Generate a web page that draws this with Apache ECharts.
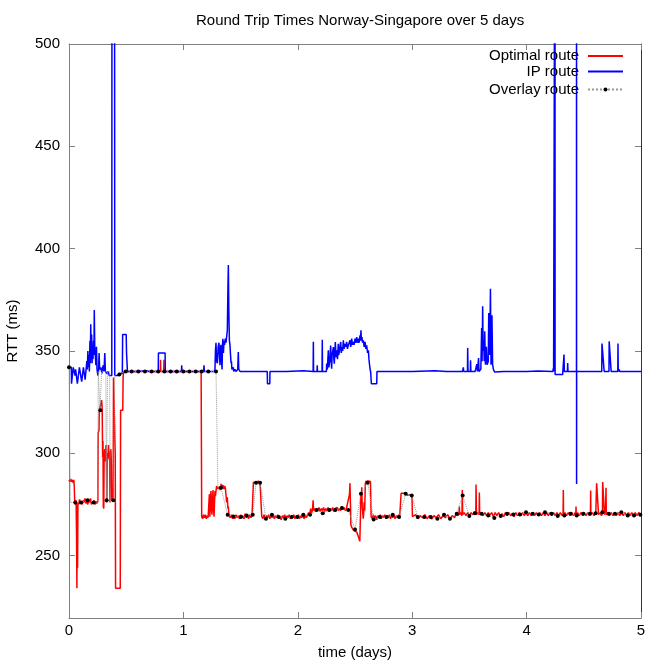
<!DOCTYPE html>
<html>
<head>
<meta charset="utf-8">
<script src="https://cdn.jsdelivr.net/npm/echarts@6/dist/echarts.min.js"></script>
<style>html,body{margin:0;padding:0;background:#fff}#c{width:664px;height:664px}</style>
</head>
<body>
<div id="c"></div>
<script>
var titleText = 'Round Trip Times Norway-Singapore over 5 days';
var xName = 'time (days)';
var yName = 'RTT (ms)';
var xTicks = [0, 1, 2, 3, 4, 5];
var yTicks = [250, 300, 350, 400, 450, 500];
var seriesNames = ['Optimal route', 'IP route', 'Overlay route'];

// Optimal route [time (days), RTT (ms)]
var optimalRoute = [
[0,287],[0.008,286],[0.015,287.5],[0.022,286],[0.03,287],[0.038,285.5],[0.042,287],[0.046,284],[0.05,276],[0.056,275],[0.062,277],[0.066,260],[0.069,234],[0.072,275],[0.075,244],[0.078,276],[0.085,275],[0.092,277.5],[0.1,275.5],[0.108,276.5],[0.116,275],[0.124,277],[0.132,276],[0.14,278],[0.148,275.5],[0.156,276.5],[0.164,275],[0.172,277],[0.18,276],[0.188,278],[0.196,275],[0.204,276.5],[0.212,275.5],[0.22,277],[0.228,275],[0.236,276.5],[0.244,275.5],[0.252,276.5],[0.255,310],[0.262,311],[0.265,321],[0.28,321],[0.285,326],[0.29,322],[0.294,298],[0.297,306],[0.3,274],[0.304,273],[0.307,298],[0.313,302],[0.318,296],[0.323,304],[0.327,298],[0.331,276],[0.334,300],[0.34,298],[0.345,304],[0.35,297],[0.355,301],[0.358,276],[0.361,299],[0.366,302],[0.37,296],[0.374,277],[0.38,277],[0.386,278],[0.389,337],[0.402,337],[0.404,300],[0.407,234],[0.448,234],[0.451,321],[0.47,321],[0.473,337],[0.478,340],
[0.55,340],[0.65,340],[0.75,340],[0.798,340],[0.8,345.7],[0.802,340],[0.828,340],[0.83,345.7],[0.832,340],[0.95,340],[1.05,340],[1.155,340],[1.16,269],
[1.168,268],[1.176,270],[1.184,268.5],[1.192,270],[1.2,268],[1.208,269.5],[1.216,268.5],[1.222,275],[1.227,280],[1.231,269],[1.236,279],[1.241,281.5],[1.245,272],[1.25,270],[1.254,278],[1.259,282],[1.263,273],[1.268,269],[1.272,276],[1.276,281.5],[1.28,279],[1.285,278.5],[1.29,284],[1.297,284.5],[1.305,282.5],[1.314,283.8],[1.322,282],[1.33,285],[1.338,283],[1.345,284.5],[1.353,282.5],[1.36,284],[1.367,283],[1.373,282.5],[1.378,276],[1.384,278.5],[1.389,273],[1.393,274],[1.398,269.5],[1.41,268.5],[1.42,270],[1.43,268],[1.44,269.5],[1.45,268],[1.46,270],[1.47,268.5],[1.48,269.5],[1.49,268],[1.5,270],[1.51,268.5],[1.52,269.5],[1.53,268],[1.54,270.5],[1.55,268.5],[1.56,269.5],[1.57,268],[1.58,270],[1.59,268.5],[1.6,269.5],[1.609,269],[1.612,285.9],[1.625,286.5],[1.64,285.5],[1.655,286.5],[1.67,285.5],[1.682,286],[1.685,269],
[1.695,268],[1.705,270],[1.715,267.5],[1.725,269.5],[1.735,268.5],[1.745,270],[1.755,268],[1.765,269.5],[1.775,268.5],[1.785,270],[1.795,268],[1.805,269.5],[1.815,268.5],[1.825,270],[1.835,268],[1.845,269],[1.855,267.5],[1.865,269.5],[1.875,268.5],[1.885,270],[1.895,268],[1.905,269.5],[1.915,268.5],[1.925,270],[1.935,268],[1.945,269.5],[1.955,268.5],[1.965,270],[1.975,268],[1.985,269.5],[1.995,268.5],[2.005,270],[2.015,268],[2.025,269.5],[2.035,268.5],[2.045,270],[2.055,268],[2.065,269.5],[2.075,268.5],[2.085,270],[2.095,271],[2.105,270],[2.112,273],[2.12,271],[2.128,272],[2.134,277],[2.138,272],[2.146,273],[2.155,271.5],[2.165,273],[2.175,272],[2.185,273.5],[2.195,271.5],[2.205,273],[2.215,272],[2.225,273.5],[2.235,271.5],[2.245,273],[2.255,272],[2.265,273.5],[2.275,271.5],[2.285,273],[2.295,272],[2.305,273.5],[2.315,271.5],[2.325,273],[2.335,272.5],[2.345,273.5],[2.355,272],[2.365,273],[2.375,272],[2.385,274],[2.395,272.5],[2.405,273.5],[2.415,272],[2.425,273],[2.435,272.5],[2.442,273],[2.452,280],[2.456,285.4],[2.46,276],[2.464,265],[2.471,263.9],[2.485,262.5],[2.5,262],[2.515,261.5],[2.525,260],[2.535,259.5],[2.542,257],[2.545,256.5],[2.548,270],[2.55,280.2],[2.554,275],[2.559,283.4],[2.563,274],[2.567,273.5],[2.572,268],[2.576,270.5],[2.58,276],[2.585,272],[2.59,285],[2.595,286.2],[2.605,285.5],[2.615,286.5],[2.625,285.8],[2.635,286.2],[2.641,269],
[2.65,268],[2.66,270],[2.67,268.5],[2.68,269.5],[2.69,267.5],[2.7,269.5],[2.71,268.5],[2.72,270],[2.73,268],[2.74,269.5],[2.75,268.5],[2.76,270],[2.77,268],[2.78,269.5],[2.79,268.5],[2.8,270],[2.81,268],[2.82,269.5],[2.83,268.5],[2.84,270],[2.85,268],[2.86,269.5],[2.87,268.5],[2.88,270],[2.89,268.5],[2.9,269],[2.903,280.5],[2.92,280],[2.94,280.5],[2.96,279.5],[2.98,279.8],[2.998,279],[3.002,269],
[3.01,268.5],[3.03,270],[3.05,268],[3.07,269.5],[3.09,268.5],[3.11,270],[3.13,268],[3.15,269.5],[3.17,267.8],[3.19,269.5],[3.21,268.5],[3.23,270],[3.25,268],[3.27,269.5],[3.29,268.5],[3.31,270],[3.33,268],[3.35,269.5],[3.37,268.5],[3.385,270.5],[3.4,269.5],[3.41,271],[3.412,274],[3.415,270],[3.425,271],[3.435,269.5],[3.438,282.1],[3.441,270],[3.455,271],[3.47,269.5],[3.485,271],[3.5,269.5],[3.515,271],[3.53,270],[3.545,271.5],[3.556,270],[3.558,284.7],[3.562,270],[3.575,271],[3.585,270],[3.587,280.8],[3.59,270],[3.605,271],[3.62,269.5],[3.635,271],[3.65,269.5],[3.665,271],[3.68,270],[3.695,271],[3.71,269],[3.725,271],[3.74,269.5],[3.755,271],[3.77,269.5],[3.785,270.5],[3.8,269],[3.815,271],[3.83,269.5],[3.845,271],[3.86,269.5],[3.875,270.5],[3.89,269],[3.905,271],[3.92,269.5],[3.935,271],[3.95,269.5],[3.965,271],[3.98,269.5],[3.995,271],[4.01,269.5],[4.025,271],[4.04,269.5],[4.055,271],[4.07,269.5],[4.085,271],[4.1,269.5],[4.115,271],[4.13,269.5],[4.145,271],[4.16,269.5],[4.175,271],[4.19,269.5],[4.205,271],[4.22,269.5],[4.235,271],[4.25,269.5],[4.265,271],[4.28,269.5],[4.295,271],[4.31,269.5],[4.319,270.5],[4.321,282.1],[4.323,270],[4.335,271],[4.35,269.5],[4.365,271],[4.38,269.5],[4.395,271],[4.41,269.5],[4.425,271],[4.43,270],[4.432,274],[4.434,270],[4.445,271],[4.46,269.5],[4.475,271],[4.49,269.5],[4.505,271],[4.52,269.5],[4.535,271],[4.55,269.5],[4.558,270.5],[4.56,281.8],[4.562,270],[4.575,271],[4.59,269.5],[4.605,271],[4.61,270.5],[4.612,285.4],[4.627,285],[4.629,270],[4.64,271],[4.655,269.5],[4.663,271],[4.665,285.9],[4.679,285.5],[4.681,270],[4.69,271],[4.694,283.1],[4.697,270],[4.71,271],[4.725,269.5],[4.74,271],[4.755,269.5],[4.77,271],[4.785,269.5],[4.8,271],[4.815,269.5],[4.83,271],[4.845,269.5],[4.86,271],[4.875,269.5],[4.89,271],[4.905,269.5],[4.92,271],[4.935,269.5],[4.95,271],[4.965,269.5],[4.98,271],[5.0,270]
];

// IP route [time (days), RTT (ms)]  (values above 500 run off the top of the plot)
var ipRoute = [
[0,342],[0.02,342],[0.022,334],[0.035,334],[0.037,342],[0.05,342],[0.053,338],[0.058,341],[0.07,341],[0.073,334],[0.088,334],[0.091,342],[0.108,342],[0.111,335],[0.123,335],[0.126,342],[0.138,342],[0.141,336],[0.152,336],[0.156,345],[0.16,341],[0.165,350],[0.169,342],[0.174,348],[0.178,340],[0.183,355],[0.187,344],[0.19,363],[0.194,346],[0.198,358],[0.202,344],[0.206,352],[0.21,346],[0.214,355],[0.218,348],[0.221,370],[0.225,352],[0.23,348],[0.235,343],[0.24,352],[0.245,341],[0.252,338],[0.258,340],[0.263,349],[0.268,341],[0.278,342],[0.288,339],[0.298,343],[0.306,340],[0.313,349],[0.318,340],[0.33,339],[0.342,340],[0.352,338],[0.374,338],[0.376,600],[0.398,600],[0.4,338],[0.43,338],[0.44,339],[0.466,339],[0.469,358],[0.5,358],[0.503,349],[0.508,349],[0.511,340],[0.6,340],[0.68,340.3],[0.7,340],[0.78,340],[0.782,349],[0.84,349],[0.842,340],[0.9,340],[0.983,340],[0.985,343],[0.988,340],[1.1,340],[1.177,340],[1.18,343],[1.183,340],[1.27,340],[1.276,341],[1.28,350],[1.285,354],[1.29,345],[1.297,344],[1.304,352],[1.311,354],[1.316,347],[1.32,343],[1.325,351],[1.328,353],[1.333,346],[1.338,341],[1.342,353],[1.345,356],[1.35,349],[1.355,355],[1.36,353],[1.366,356],[1.372,354],[1.378,357],[1.384,360],[1.389,380],[1.393,392],[1.397,370],[1.402,355],[1.407,353],[1.412,348],[1.417,344],[1.42,345],[1.424,341],[1.43,340.5],[1.436,342],[1.44,340],[1.45,341],[1.46,340],[1.475,341],[1.48,349.5],[1.484,341],[1.495,340],[1.6,340],[1.733,340],[1.735,334],[1.755,334],[1.757,340],[1.9,340],[2.05,340.3],[2.134,340],[2.136,354.5],[2.138,340],[2.168,340],[2.17,343],[2.172,340],[2.212,340],[2.214,355.5],[2.216,340],[2.25,340],[2.252,343.8],[2.258,341],[2.267,350.3],[2.271,342],[2.275,342.1],[2.28,345],[2.287,352.7],[2.292,346],[2.296,341.3],[2.3,348],[2.311,351.9],[2.315,346],[2.319,343.8],[2.324,349],[2.328,354.4],[2.334,347],[2.34,350.3],[2.347,346],[2.354,353.5],[2.358,348],[2.363,348.7],[2.369,352],[2.375,354.4],[2.38,349],[2.386,351.9],[2.392,350],[2.398,355.2],[2.405,351],[2.412,353.5],[2.42,352],[2.427,354.4],[2.434,351],[2.441,352.7],[2.448,353],[2.456,355.2],[2.463,352],[2.471,356],[2.478,353],[2.485,354.4],[2.492,353],[2.5,356],[2.507,354],[2.515,356.8],[2.522,354],[2.529,356],[2.536,354],[2.544,357.6],[2.548,355],[2.552,360.1],[2.556,355],[2.561,356.8],[2.566,354],[2.573,355.2],[2.58,352],[2.588,354.4],[2.595,351],[2.602,352.7],[2.61,349],[2.617,350.3],[2.622,346],[2.626,343.8],[2.632,341],[2.637,339.7],[2.643,334],[2.69,334],[2.692,340],[2.8,340],[3.0,340],[3.2,340.3],[3.3,340],[3.44,340],[3.447,342],[3.45,340],[3.483,340],[3.485,351.5],[3.488,340],[3.508,340],[3.51,345.5],[3.513,340],[3.55,340],[3.565,343.6],[3.57,340],[3.58,346.5],[3.584,340],[3.6,341],[3.607,361.2],[3.611,345],[3.616,371.8],[3.62,350],[3.625,354.8],[3.63,345],[3.634,359.6],[3.64,343.3],[3.648,352],[3.655,343.3],[3.665,345],[3.669,368.5],[3.673,351],[3.678,348],[3.684,380.4],[3.689,343.3],[3.693,350],[3.697,367.4],[3.703,343.3],[3.71,341],[3.72,339.7],[3.8,340],[4.0,340],[4.1,340.2],[4.23,340],[4.233,341.5],[4.236,340],[4.247,340],[4.248,620],[4.249,338.5],[4.315,338.5],[4.317,340],[4.325,340],[4.327,348.2],[4.33,340],[4.357,340],[4.359,344.1],[4.362,340],[4.436,340],[4.4365,620],[4.437,285],[4.4375,340],[4.5,340],[4.657,340],[4.659,353.6],[4.676,353.6],[4.678,340],[4.72,340],[4.722,354.7],[4.737,354.7],[4.739,340],[4.797,340],[4.799,353.6],[4.801,340],[4.81,341],[4.812,340],[5,340]
];

// Overlay route: sampled points (drawn as dots)
var overlayDotT = [0,0.055,0.105,0.163,0.216,0.274,0.329,0.387,0.44,0.496,0.548,0.606,0.664,0.722,0.78,0.833,0.889,0.942,1.0,1.052,1.108,1.16,1.218,1.285,1.329,1.387,1.436,1.503,1.553,1.606,1.635,1.67,1.722,1.774,1.833,1.891,1.947,1.996,2.048,2.107,2.165,2.218,2.275,2.328,2.386,2.441,2.5,2.552,2.611,2.663,2.718,2.777,2.83,2.885,2.943,2.996,3.048,3.106,3.162,3.22,3.278,3.33,3.389,3.441,3.499,3.549,3.607,3.665,3.718,3.774,3.829,3.884,3.942,3.995,4.053,4.106,4.161,4.219,4.272,4.33,4.385,4.438,4.496,4.554,4.604,4.662,4.718,4.773,4.828,4.884,4.939,4.994];
var overlayDotV = [342,276,276,277,276,321,277,277,338.5,340,340,340,340,340,340,340,340,340,340,340,340,340,340,340,283.1,269.9,269.1,268.8,269.6,269.9,285.6,285.6,268,269.9,268.8,268,268.8,268.8,269.9,269.9,272.3,270.7,272.3,272.3,273.2,272.3,262.7,280.2,285.6,267.6,268.8,268.8,269.9,268.8,280.2,279.4,268.8,268.8,268.8,268,269.9,268,270.4,279.4,269.4,270.7,270.4,269.6,268.4,269.4,270.4,270.1,270.1,271.2,270.4,270.1,271.2,270.4,269.4,269.6,270.4,269.6,270.4,270.4,270.7,271.2,270.4,270.4,271.2,269.6,269.6,270];
// Overlay route: switching points between the dots (path only)
var overlayLinkT = [0.008,0.012,0.25,0.256,0.268,0.271,0.28,0.285,0.322,0.326,0.333,0.337,0.355,0.36,0.395,0.4,0.46,0.47,1.298,1.302];
var overlayLinkV = [342,276,276,340,340,321,321,340,340,277,277,340,340,277,277,338.5,338.5,340,340,283];

var chart = echarts.init(document.getElementById('c'), null, {renderer: 'canvas'});
var FONT = 'Liberation Sans';

var overlayData = [];
overlayDotT.forEach(function (t, i) { overlayData.push({value: [t, overlayDotV[i]]}); });
overlayLinkT.forEach(function (t, i) { overlayData.push({value: [t, overlayLinkV[i]], symbol: 'none'}); });
overlayData.sort(function (a, b) { return a.value[0] - b.value[0]; });

function legendFor(name, top, hideSymbol) {
  var lg = {
    data: [name], right: 40, top: top, orient: 'vertical', align: 'right',
    itemWidth: 35, itemHeight: hideSymbol ? 12 : 5, padding: 0,
    textStyle: {fontFamily: FONT, fontSize: 15, color: '#000', padding: [0, 4, 0, 0]},
    selectedMode: false
  };
  if (hideSymbol) { lg.itemStyle = {opacity: 0}; }
  return lg;
}

var axisGray = '#808080';
var option = {
  animation: false,
  backgroundColor: '#fff',
  title: {
    text: titleText, left: 196, top: 13, padding: 0,
    textStyle: {fontFamily: FONT, fontSize: 15, fontWeight: 'normal', color: '#000'}
  },
  legend: [legendFor(seriesNames[0], 48.5, true), legendFor(seriesNames[1], 64, true), legendFor(seriesNames[2], 82, false)],
  grid: {left: 69, right: 23, top: 44, bottom: 46, containLabel: false, outerBoundsMode: 'none'},
  xAxis: [{
    type: 'value', min: xTicks[0], max: xTicks[xTicks.length - 1], interval: 1,
    name: xName, nameLocation: 'middle', nameGap: 27,
    nameTextStyle: {fontFamily: FONT, fontSize: 15, color: '#000'},
    axisLine: {onZero: false, lineStyle: {color: axisGray, width: 1}},
    axisTick: {inside: true, length: 6, lineStyle: {color: axisGray}},
    axisLabel: {fontFamily: FONT, fontSize: 15, color: '#000', margin: 5},
    splitLine: {show: false}
  }, {
    type: 'value', position: 'top', min: xTicks[0], max: xTicks[xTicks.length - 1], interval: 1,
    axisLine: {onZero: false, lineStyle: {color: axisGray, width: 1}},
    axisTick: {inside: true, length: 6, lineStyle: {color: axisGray}},
    axisLabel: {show: false}, splitLine: {show: false}
  }],
  yAxis: [{
    type: 'value', min: 219.5, max: 500,
    name: yName, nameLocation: 'middle', nameGap: 49, nameRotate: 90,
    nameTextStyle: {fontFamily: FONT, fontSize: 15, color: '#000'},
    axisLine: {onZero: false, lineStyle: {color: axisGray, width: 1}},
    axisTick: {inside: true, length: 6, customValues: yTicks, lineStyle: {color: axisGray}},
    axisLabel: {fontFamily: FONT, fontSize: 15, color: '#000', margin: 9, customValues: yTicks},
    splitLine: {show: false}
  }, {
    type: 'value', position: 'right', min: 219.5, max: 500,
    axisLine: {onZero: false, lineStyle: {color: '#333', width: 1}},
    axisTick: {inside: true, length: 6, customValues: yTicks, lineStyle: {color: axisGray}},
    axisLabel: {show: false}, splitLine: {show: false}
  }],
  series: [{
    name: seriesNames[0], type: 'line', xAxisIndex: 0, yAxisIndex: 0,
    data: optimalRoute, symbol: 'none', showSymbol: false, clip: true,
    lineStyle: {color: '#ff0000', width: 1.5}, itemStyle: {color: '#ff0000'}
  }, {
    name: seriesNames[1], type: 'line', xAxisIndex: 0, yAxisIndex: 0,
    data: ipRoute, symbol: 'none', showSymbol: false, clip: true,
    lineStyle: {color: '#0000ff', width: 1.5}, itemStyle: {color: '#0000ff'}
  }, {
    name: seriesNames[2], type: 'line', xAxisIndex: 0, yAxisIndex: 0,
    data: overlayData, symbol: 'circle', symbolSize: 4, showSymbol: true, clip: true,
    lineStyle: {color: '#999', width: 1, type: 'dotted'}, itemStyle: {color: '#000', borderWidth: 0}
  }]
};
chart.setOption(option);
</script>
</body>
</html>
